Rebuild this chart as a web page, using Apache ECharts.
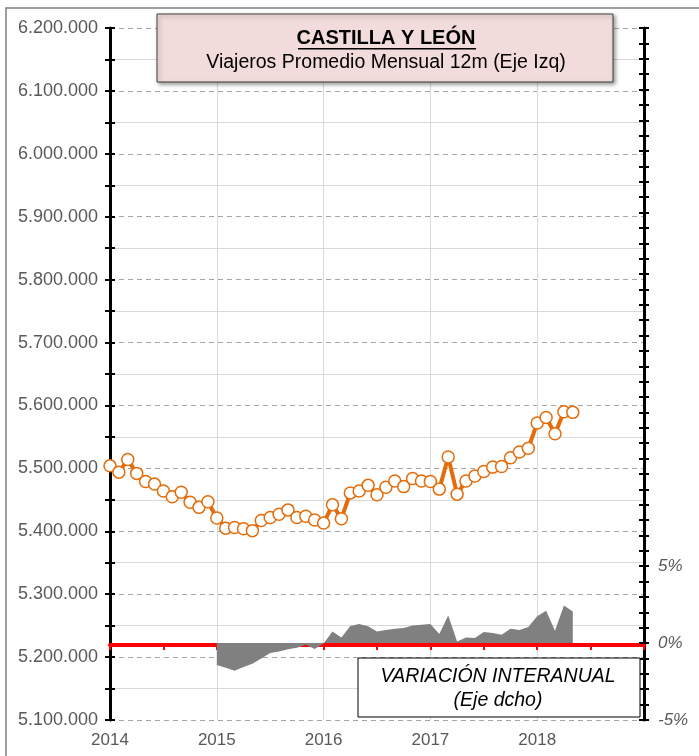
<!DOCTYPE html>
<html style="height: 100%">

<head>
  <meta charset="utf-8">
  <script src="https://cdn.jsdelivr.net/npm/echarts@6/dist/echarts.min.js"></script>
</head>

<body style="height: 100%; margin: 0; background: #fff">
  <div id="main" style="width: 699px; height: 756px"></div>

  <script type="text/javascript">
    // años del eje X (cada año = 12 meses)
    var years = ['2014', '2015', '2016', '2017', '2018'];
    // viajeros promedio mensual 12m, ene 2014 - may 2018
    var viajeros = [
      5504000, 5494000, 5514000, 5492000, 5479000, 5475000, 5464000, 5455000, 5462000, 5446000, 5438000, 5447000,
      5421000, 5405000, 5406000, 5404000, 5401000, 5417000, 5422000, 5427000, 5434000, 5422000, 5424000, 5418000,
      5413000, 5442000, 5420000, 5461000, 5464000, 5473000, 5458000, 5470000, 5480000, 5471000, 5484000, 5480000,
      5479000, 5467000, 5518000, 5459000, 5480000, 5488000, 5495000, 5502000, 5503000, 5517000, 5526000, 5532000,
      5572000, 5581000, 5555000, 5590000, 5589000
    ];
    // variacion interanual (%), sin dato en 2014
    var variacion = [
      null, null, null, null, null, null, null, null, null, null, null, null,
      -1.43, -1.6, -1.8, -1.55, -1.35, -1.0, -0.65, -0.55, -0.4, -0.3, -0.11, -0.39,
      -0.02, 0.76, 0.37, 1.12, 1.25, 1.09, 0.76, 0.86, 0.93, 0.98, 1.15, 1.2,
      1.25, 0.6, 1.8, 0.11, 0.37, 0.33, 0.72, 0.65, 0.54, 0.93, 0.86, 1.04,
      1.74, 2.1, 0.8, 2.45, 2.06
    ];
    var rightLabels = [-5, 0, 5];

    var FONT = 'Liberation Sans';
    var myChart = echarts.init(document.getElementById('main'));

    function fmtMiles(v) {
      return String(v).replace(/\B(?=(\d{3})+(?!\d))/g, '.');
    }

    var option = {
      backgroundColor: '#fff',
      animation: false,
      textStyle: { fontFamily: FONT },
      grid: [
        { left: 110, right: 55, top: 28, bottom: 36 },
        { left: 110, right: 55, top: 28, bottom: 111 }
      ],
      xAxis: [{
        type: 'value', gridIndex: 0, min: 0, max: 60, interval: 12,
        axisLine: { show: false },
        axisTick: { show: false },
        axisLabel: {
          color: '#595959', fontSize: 17, margin: 12,
          formatter: function (v) { return years[v / 12] || ''; }
        },
        splitLine: { show: true, lineStyle: { color: '#D9D9D9', width: 1, type: 'solid' } }
      }, {
        type: 'value', gridIndex: 1, min: 0, max: 60, interval: 6,
        axisLine: { show: true, lineStyle: { color: '#FF0000', width: 4 } },
        axisTick: { show: true, length: 5, lineStyle: { color: '#FF0000', width: 2 } },
        axisLabel: { show: false },
        splitLine: { show: false }
      }],
      yAxis: [{
        type: 'value', gridIndex: 0, min: 5100000, max: 6200000, interval: 100000,
        position: 'left',
        axisLine: { show: true, lineStyle: { color: '#000', width: 3 } },
        axisTick: { show: true, length: 5, lineStyle: { color: '#000', width: 2 } },
        minorTick: { show: true, splitNumber: 2, length: 5, lineStyle: { color: '#000', width: 2 } },
        axisLabel: { color: '#595959', fontSize: 18, margin: 12, formatter: fmtMiles },
        splitLine: { show: true, lineStyle: { color: '#A6A6A6', type: [5, 4], width: 1 } },
        minorSplitLine: { show: true, lineStyle: { color: '#D9D9D9', width: 1 } }
      }, {
        type: 'value', gridIndex: 0, min: -5, max: 40, interval: 1,
        position: 'right',
        axisLine: { show: true, lineStyle: { color: '#000', width: 3 } },
        axisTick: { show: true, length: 5, lineStyle: { color: '#000', width: 2 } },
        axisLabel: {
          color: '#595959', fontSize: 17, fontStyle: 'italic', margin: 14,
          formatter: function (v) { return rightLabels.indexOf(v) >= 0 ? v + '%' : ''; }
        },
        splitLine: { show: false }
      }, {
        type: 'value', gridIndex: 0, min: 5100000, max: 6200000, interval: 100000,
        position: 'left',
        axisLine: { show: false },
        axisTick: { show: true, inside: true, length: 5, lineStyle: { color: '#000', width: 2 } },
        minorTick: { show: true, splitNumber: 2, length: 5, lineStyle: { color: '#000', width: 2 } },
        axisLabel: { show: false },
        splitLine: { show: false }
      }, {
        type: 'value', gridIndex: 0, min: -5, max: 40, interval: 1,
        position: 'right',
        axisLine: { show: false },
        axisTick: { show: true, inside: true, length: 5, lineStyle: { color: '#000', width: 2 } },
        axisLabel: { show: false },
        splitLine: { show: false }
      }, {
        type: 'value', gridIndex: 1, min: 0, max: 1,
        show: false
      }],
      series: [{
        name: 'Variación interanual',
        type: 'line',
        xAxisIndex: 0, yAxisIndex: 1,
        data: variacion.map(function (v, i) { return [i, v]; }),
        showSymbol: false,
        symbol: 'none',
        lineStyle: { width: 0 },
        areaStyle: { color: '#808080', opacity: 1, origin: 0 },
        z: 2
      }, {
        name: 'Viajeros',
        type: 'line',
        xAxisIndex: 0, yAxisIndex: 0,
        data: viajeros.map(function (v, i) { return [i, v]; }),
        symbol: 'circle',
        symbolSize: 12,
        itemStyle: { color: '#fff', borderColor: '#E46C0A', borderWidth: 1.5 },
        lineStyle: { color: '#E46C0A', width: 4 },
        z: 4
      }],
      graphic: [{
        type: 'rect', z: 0, silent: true,
        shape: { x: 6, y: 8, width: 720, height: 780 },
        style: { fill: 'none', stroke: '#7F7F7F', lineWidth: 1.5 }
      }, {
        type: 'rect', z: 100,
        shape: { x: 157, y: 14, width: 456, height: 68 },
        style: {
          fill: '#F2DCDB', stroke: '#404040', lineWidth: 1,
          shadowBlur: 4, shadowOffsetX: 2, shadowOffsetY: 2, shadowColor: 'rgba(0,0,0,0.4)'
        }
      }, {
        type: 'text', z: 101,
        style: {
          x: 386, y: 38, text: 'CASTILLA Y LEÓN', textAlign: 'center', textVerticalAlign: 'middle',
          font: 'bold 20px "Liberation Sans"', fill: '#000'
        }
      }, {
        type: 'rect', z: 101,
        shape: { x: 298, y: 48, width: 178, height: 1.5 },
        style: { fill: '#000' }
      }, {
        type: 'text', z: 101,
        style: {
          x: 386, y: 63, text: 'Viajeros Promedio Mensual 12m (Eje Izq)', textAlign: 'center',
          textVerticalAlign: 'middle', font: '19.5px "Liberation Sans"', fill: '#000'
        }
      }, {
        type: 'rect', z: 100,
        shape: { x: 358, y: 658, width: 282, height: 59 },
        style: { fill: '#fff', stroke: '#000', lineWidth: 1 }
      }, {
        type: 'text', z: 101,
        style: {
          x: 498, y: 677, text: 'VARIACIÓN INTERANUAL', textAlign: 'center', textVerticalAlign: 'middle',
          font: 'italic 19.5px "Liberation Sans"', fill: '#000'
        }
      }, {
        type: 'text', z: 101,
        style: {
          x: 498, y: 701, text: '(Eje dcho)', textAlign: 'center', textVerticalAlign: 'middle',
          font: 'italic 19.5px "Liberation Sans"', fill: '#000'
        }
      }]
    };

    myChart.setOption(option, true);
  </script>
</body>

</html>
